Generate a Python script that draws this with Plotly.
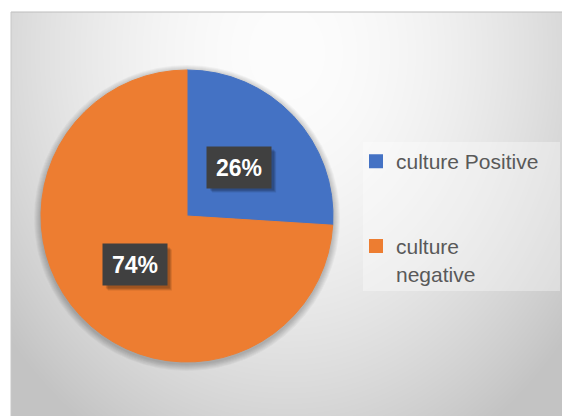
import math, zlib, struct, base64
import numpy as np
import plotly.graph_objects as go

# ---- data ----
categories = ["culture Positive", "culture negative"]
values = [26, 74]
colors = ["#4472C4", "#ED7D31"]

W, H = 562, 416

# legend display text (wrapping / spacing only)
legend_text = ["culture Positive<br>\u00a0<br>\u00a0", "culture<br>negative"]

# ---- background gradient image (style only) ----
def png_uri(arr):
    h, w, _ = arr.shape
    raw = b"".join(b"\x00" + arr[y].tobytes() for y in range(h))
    def chunk(t, d):
        c = struct.pack(">I", len(d)) + t + d
        return c + struct.pack(">I", zlib.crc32(t + d) & 0xffffffff)
    png = (b"\x89PNG\r\n\x1a\n"
           + chunk(b"IHDR", struct.pack(">IIBBBBB", w, h, 8, 2, 0, 0, 0))
           + chunk(b"IDAT", zlib.compress(raw))
           + chunk(b"IEND", b""))
    return "data:image/png;base64," + base64.b64encode(png).decode()

gw, gh = 551, 404
yy, xx = np.mgrid[0:gh, 0:gw]
cxg, cyg = gw * 0.5, gh * 0.1
d = np.sqrt(((xx - cxg) / (gw * 0.62)) ** 2 + ((yy - cyg) / (gh * 1.05)) ** 2)
d = np.clip(d, 0, 1.2)
v = 253 - 52 * d ** 1.8
v = np.clip(v, 195, 255)
img = np.repeat(v[:, :, None], 3, axis=2).astype(np.uint8)
bg_uri = png_uri(img)

fig = go.Figure()

dom_x = [41 / W, 333 / W]
dom_y = [1 - 362 / H, 1 - 70 / H]

fig.add_trace(go.Pie(
    labels=legend_text,
    values=values,
    customdata=categories,
    marker=dict(colors=colors, line=dict(color=colors, width=1)),
    sort=False,
    direction="clockwise",
    rotation=0,
    textinfo="none",
    hovertemplate="%{customdata}: %{percent}<extra></extra>",
    domain=dict(x=dom_x, y=dom_y),
    showlegend=True,
))

cx = (dom_x[0] + dom_x[1]) / 2
cy = (dom_y[0] + dom_y[1]) / 2
r_px = (dom_x[1] - dom_x[0]) * W / 2

shapes = [
    dict(type="line", xref="paper", yref="paper", x0=11 / W, x1=1, y0=1 - 12 / H, y1=1 - 12 / H,
         line=dict(color="#bdbdbd", width=1)),
    dict(type="line", xref="paper", yref="paper", x0=11 / W, x1=11 / W, y0=0, y1=1 - 12 / H,
         line=dict(color="#c8c8c8", width=1)),
    # lighter legend panel
    dict(type="rect", xref="paper", yref="paper", x0=363 / W, x1=560 / W,
         y0=1 - 291 / H, y1=1 - 142 / H, line=dict(width=0),
         fillcolor="rgba(255,255,255,0.35)", layer="below"),
]
# soft outer shadow of the pie
for k in range(1, 8):
    rr = r_px + k
    shapes.append(dict(
        type="circle", xref="paper", yref="paper",
        x0=cx - rr / W, x1=cx + rr / W,
        y0=cy - (rr + 2) / H, y1=cy + (rr - 2) / H,
        line=dict(width=0), fillcolor="rgba(0,0,0,0.035)", layer="below",
    ))

# percentage labels placed from the data (mid-angle of each slice)
total = sum(values)
cum = 0
annotations = []
bw, bh = 64, 41
for val in values:
    mid = (cum + val / 2) / total * 2 * math.pi
    cum += val
    px = cx + 0.49 * r_px * math.sin(mid) / W
    py = cy + 0.49 * r_px * math.cos(mid) / H
    pct = f"{round(val / total * 100)}%"
    for k, a in [(5, 0.10), (4, 0.12), (3, 0.14)]:
        shapes.append(dict(
            type="rect", xref="paper", yref="paper",
            x0=px - (bw / 2 - k) / W, x1=px + (bw / 2 + k) / W,
            y0=py - (bh / 2 + k) / H, y1=py + (bh / 2 - k) / H,
            line=dict(width=0), fillcolor=f"rgba(0,0,0,{a})", layer="above",
        ))
    annotations.append(dict(
        x=px, y=py, xref="paper", yref="paper", text=f"<b>{pct}</b>", showarrow=False,
        xanchor="center", yanchor="middle",
        font=dict(family="Liberation Sans", size=23, color="white"),
        bgcolor="#404040", width=bw - 8, height=bh - 8, borderpad=4,
    ))

fig.update_layout(
    width=W, height=H,
    margin=dict(l=0, r=0, t=0, b=0),
    paper_bgcolor="white",
    images=[dict(
        source=bg_uri, xref="paper", yref="paper",
        x=11 / W, y=1 - 12 / H, sizex=1 - 11 / W, sizey=1 - 12 / H,
        xanchor="left", yanchor="top", sizing="stretch", layer="below",
    )],
    shapes=shapes,
    legend=dict(
        x=356 / W, y=1 - 141 / H, xanchor="left", yanchor="top",
        bgcolor="rgba(0,0,0,0)", borderwidth=0,
        font=dict(family="Liberation Sans", size=21, color="#595959"),
        valign="top",
        itemsizing="constant",
    ),
    annotations=annotations,
)

fig.write_html("out.html", config={"displayModeBar": False},
               post_script="document.body.style.margin='0px';document.body.style.overflow='hidden';")
